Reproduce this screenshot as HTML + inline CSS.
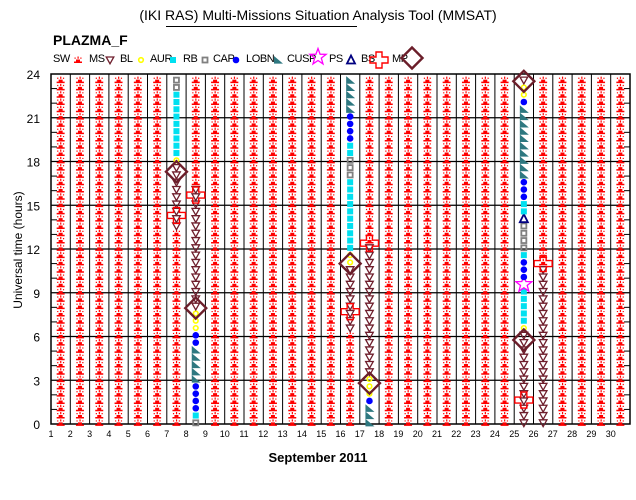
<!DOCTYPE html>
<html><head><meta charset="utf-8"><style>
html,body{margin:0;padding:0;background:#fff;}
svg{display:block;font-family:"Liberation Sans",sans-serif;}
</style></head><body>
<svg id="chart" width="636" height="500" viewBox="0 0 636 500">
<text x="318" y="20" text-anchor="middle" font-size="14">(IKI RAS) Multi-Missions Situation Analysis Tool (MMSAT)</text>
<line x1="166" y1="26.5" x2="357" y2="26.5" stroke="#000" stroke-width="1"/>
<text x="53" y="45" font-size="14" font-weight="bold">PLAZMA_F</text>
<g id="legend"></g>
<g id="plot"></g>
<text transform="translate(22,250) rotate(-90)" text-anchor="middle" font-size="12">Universal time (hours)</text>
<text x="318" y="462" text-anchor="middle" font-size="13" font-weight="bold">September 2011</text>
</svg>
<script>
const dayLabels = [1,2,3,4,5,6,7,8,9,10,11,12,13,14,15,16,17,18,19,20,21,22,23,24,25,26,27,28,29,30];
const hourTicks = [0,3,6,9,12,15,18,21,24];
const slotCount = 48;
const specialDays = [7,8,16,17,25,26];
const segDay7 = [[0,26,'SW'],[27,35,'MS'],[36,36,'BL'],[37,45,'AUR'],[46,47,'RB']];
const segDay8 = [[0,0,'RB'],[1,1,'AUR'],[2,5,'CAP'],[6,10,'LOBN'],[11,12,'CAP'],[13,15,'BL'],[16,32,'MS'],[33,47,'SW']];
const segDay16 = [[0,12,'SW'],[13,21,'MS'],[22,23,'BL'],[24,33,'AUR'],[34,36,'RB'],[37,38,'AUR'],[39,42,'CAP'],[43,47,'LOBN']];
const segDay17 = [[0,2,'LOBN'],[3,3,'CAP'],[4,6,'BL'],[7,24,'MS'],[25,47,'SW']];
const segDay25 = [[0,12,'MS'],[13,13,'BL'],[14,18,'AUR'],[19,19,'CUSP'],[20,22,'CAP'],[23,23,'AUR'],[24,27,'RB'],[28,28,'PS'],[29,30,'AUR'],[31,33,'CAP'],[34,43,'LOBN'],[44,44,'CAP'],[45,46,'BL'],[47,47,'MS']];
const segDay26 = [[0,21,'MS'],[22,47,'SW']];
const segments = [segDay7, segDay8, segDay16, segDay17, segDay25, segDay26];
const mpDays = [7,8,16,17,25,25];
const mpTimes = [17.3,7.95,11.0,2.8,23.5,5.76];
const bsDays = [7,8,16,17,25,26];
const bsTimes = [14.3,15.7,7.7,12.4,1.64,11.0];
const legendNames = ['SW','MS','BL','AUR','RB','CAP','LOBN','CUSP','PS','BS','MP'];

const NS = 'http://www.w3.org/2000/svg';
const X0 = 51, X1 = 630, Y0 = 424, Y1 = 74;
const dayW = (X1 - X0) / dayLabels.length;
const xEdge = d => X0 + (d - 1) * dayW;
const xC = d => xEdge(d) + dayW / 2;
const yT = t => Y0 - t * (Y0 - Y1) / 24;
const slotT = k => 0.08 + 0.5 * k;

function mk(tag, attrs, parent) {
  const e = document.createElementNS(NS, tag);
  for (const k in attrs) e.setAttribute(k, attrs[k]);
  parent.appendChild(e);
  return e;
}
function marker(type, cx, cy, parent) {
  let e;
  if (type === 'SW') {
    e = mk('path', {d:`M${cx-4},${cy+1.5}h8v1.5h-8z M${cx-2},${cy-0.5}h4v2h-4z M${cx-0.5},${cy-3.5}h1.2v2.2h-1.2z M${cx-3.5},${cy-2.5}h1.2v1.2h-1.2z M${cx+2.3},${cy-2.5}h1.2v1.2h-1.2z`, fill:'#ff0000'}, parent);
  } else if (type === 'MS') {
    e = mk('path', {d:`M${cx-3.8},${cy-3}L${cx+3.8},${cy-3}L${cx},${cy+3.8}Z`, fill:'none', stroke:'#6e1e2c', 'stroke-width':1.3}, parent);
  } else if (type === 'BL') {
    e = mk('circle', {cx:cx, cy:cy, r:2.3, fill:'none', stroke:'#ffff00', 'stroke-width':1.6}, parent);
  } else if (type === 'AUR') {
    e = mk('rect', {x:cx-3, y:cy-3, width:6, height:6, fill:'#00e0f0'}, parent);
  } else if (type === 'RB') {
    e = mk('rect', {x:cx-2.5, y:cy-2.5, width:5, height:5, fill:'none', stroke:'#808080', 'stroke-width':1.8}, parent);
  } else if (type === 'CAP') {
    e = mk('circle', {cx:cx, cy:cy, r:3.3, fill:'#0000ff'}, parent);
  } else if (type === 'LOBN') {
    e = mk('path', {d:`M${cx-4},${cy-4}L${cx-4},${cy+3.6}L${cx+5},${cy+3.6}Z`, fill:'#2e7880'}, parent);
  } else if (type === 'CUSP') {
    let d = '';
    for (let i = 0; i < 10; i++) {
      const r = i % 2 ? 3.5 : 8.5, a = -Math.PI/2 + i * Math.PI/5;
      d += (i ? 'L' : 'M') + (cx + r*Math.cos(a)).toFixed(1) + ',' + (cy + r*Math.sin(a)).toFixed(1);
    }
    e = mk('path', {d:d+'Z', fill:'none', stroke:'#ff00ff', 'stroke-width':1.3}, parent);
  } else if (type === 'PS') {
    e = mk('path', {d:`M${cx},${cy-4.5}L${cx+4},${cy+3.5}L${cx-4},${cy+3.5}Z`, fill:'none', stroke:'#000080', 'stroke-width':1.8}, parent);
  } else if (type === 'BS') {
    e = mk('path', {d:`M${cx-3},${cy-8}h6v5h6v6h-6v5h-6v-5h-6v-6h6z`, fill:'none', stroke:'#ff0000', 'stroke-width':1.4}, parent);
  } else if (type === 'MP') {
    e = mk('path', {d:`M${cx},${cy-10.5}L${cx+10.5},${cy}L${cx},${cy+10.5}L${cx-10.5},${cy}Z`, fill:'none', stroke:'#6b1e2a', 'stroke-width':2.4}, parent);
  }
  return e;
}

const plot = document.getElementById('plot');
const frame = mk('rect', {x:X0, y:Y1, width:X1-X0, height:Y0-Y1, fill:'none', stroke:'#000', 'stroke-width':1.5}, plot);


dayLabels.forEach((d, i) => {
  if (i > 0) {
    const l = mk('line', {x1:xEdge(d), y1:Y1, x2:xEdge(d), y2:Y0, stroke:'#000', 'stroke-width':1}, plot);
    
    
  }
  const t = mk('text', {x:xEdge(d), y:437, 'text-anchor':'middle', 'font-size':9}, plot);
  t.textContent = d;
  
  
});
hourTicks.forEach(h => {
  if (h > 0 && h < 24) {
    const l = mk('line', {x1:X0, y1:yT(h), x2:X1, y2:yT(h), stroke:'#000', 'stroke-width':1.3}, plot);
    
    
  }
  const t = mk('text', {x:40, y:yT(h)+5, 'text-anchor':'end', 'font-size':12}, plot);
  t.textContent = h;
  
  
});
for (let h = 1; h < 24; h++) {
  if (h % 3 === 0) continue;
  const a = mk('line', {x1:X0, y1:yT(h), x2:X0+6, y2:yT(h), stroke:'#000', 'stroke-width':1}, plot);
  
  
  const b = mk('line', {x1:X1-6, y1:yT(h), x2:X1, y2:yT(h), stroke:'#000', 'stroke-width':1}, plot);
  
  
}
dayLabels.forEach(d => {
  const si = specialDays.indexOf(d);
  for (let k = 0; k < slotCount; k++) {
    let type = 'SW';
    if (si >= 0) {
      for (const s of segments[si]) if (k >= s[0] && k <= s[1]) type = s[2];
    }
    const m = marker(type, xC(d), yT(slotT(k)), plot);
    
    
  }
});
bsDays.forEach((d, i) => {
  const m = marker('BS', xC(d), yT(bsTimes[i]), plot);
  
  
});
mpDays.forEach((d, i) => {
  const m = marker('MP', xC(d), yT(mpTimes[i]), plot);
  
  
});
const legend = document.getElementById('legend');
const legX = [53,89,120,150,183,213,246,287,329,361,392];
const legM = [78,110,141,173,205,236,278,318,351,379,412];
legendNames.forEach((n, i) => {
  const t = mk('text', {x:legX[i], y:62, 'font-size':11, 'letter-spacing':'-0.4'}, legend);
  t.textContent = n;
  
  
  const m = marker(n, legM[i], n === 'MP' ? 58 : (n === 'CUSP' ? 57 : 60), legend);
  
  
});
</script>
</body></html>
